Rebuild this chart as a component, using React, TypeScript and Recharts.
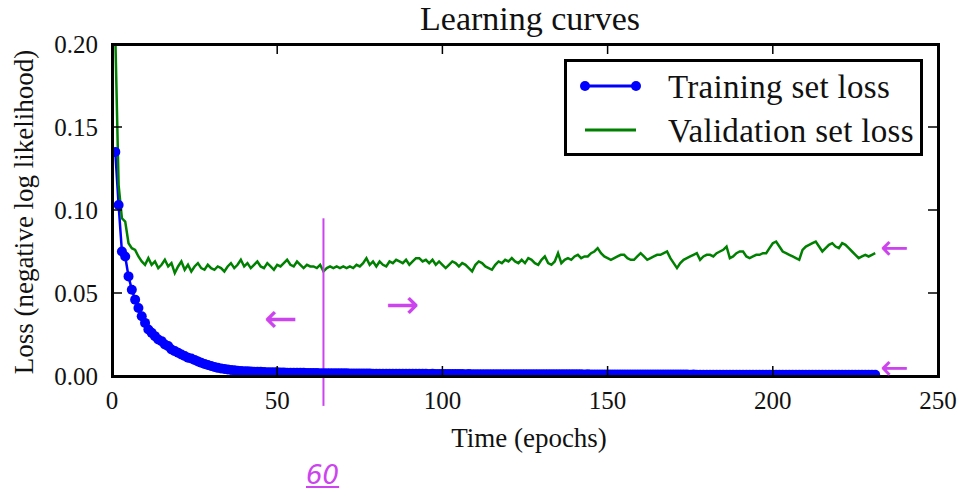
import { LineChart, Line, XAxis, YAxis, Legend, ReferenceLine } from 'recharts'

const FONT = "'Liberation Serif', 'DejaVu Serif', serif"
const INK = '#cc44ee'

// loss values, one per epoch (1..231)
const trainLoss = [
  0.135, 0.103, 0.075, 0.072, 0.060, 0.052, 0.046, 0.041, 0.036, 0.032,
  0.028, 0.026, 0.024, 0.022, 0.021, 0.019, 0.018, 0.016, 0.015, 0.014,
  0.013, 0.012, 0.011, 0.0105, 0.0097, 0.0088, 0.0080, 0.0073, 0.0066, 0.0060,
  0.0054, 0.0049, 0.0045, 0.0042, 0.0039, 0.0036, 0.0034, 0.0032, 0.0030, 0.0029,
  0.0028, 0.0027, 0.0026, 0.0025, 0.0025, 0.0024, 0.0023, 0.0023, 0.0022, 0.0022,
  0.0021, 0.0021, 0.0020, 0.0020, 0.0020, 0.0019, 0.0019, 0.0019, 0.0018, 0.0018,
  0.0018, 0.0018, 0.0017, 0.0017, 0.0017, 0.0017, 0.0016, 0.0016, 0.0016, 0.0016,
  0.0016, 0.0015, 0.0015, 0.0015, 0.0015, 0.0015, 0.0015, 0.0015, 0.0014, 0.0014,
  0.0014, 0.0014, 0.0014, 0.0014, 0.0014, 0.0013, 0.0014, 0.0013, 0.0013, 0.0013,
  0.0013, 0.0013, 0.0013, 0.0013, 0.0013, 0.0012, 0.0013, 0.0012, 0.0012, 0.0012,
  0.0012, 0.0012, 0.0012, 0.0012, 0.0012, 0.0012, 0.0011, 0.0012, 0.0011, 0.0011,
  0.0011, 0.0011, 0.0011, 0.0011, 0.0011, 0.0011, 0.0011, 0.0011, 0.0011, 0.0011,
  0.0011, 0.0010, 0.0011, 0.0010, 0.0010, 0.0010, 0.0010, 0.0010, 0.0010, 0.0010,
  0.0010, 0.0010, 0.0010, 0.0010, 0.0010, 0.0010, 0.0010, 0.0010, 0.0010, 0.0010,
  0.0010, 0.0010, 0.0009, 0.0010, 0.0009, 0.0009, 0.0009, 0.0009, 0.0009, 0.0009,
  0.0009, 0.0009, 0.0009, 0.0009, 0.0009, 0.0009, 0.0009, 0.0009, 0.0009, 0.0009,
  0.0009, 0.0009, 0.0009, 0.0009, 0.0009, 0.0009, 0.0009, 0.0009, 0.0009, 0.0009,
  0.0009, 0.0009, 0.0009, 0.0009, 0.0008, 0.0009, 0.0008, 0.0008, 0.0008, 0.0008,
  0.0008, 0.0008, 0.0008, 0.0008, 0.0008, 0.0008, 0.0008, 0.0008, 0.0008, 0.0008,
  0.0008, 0.0008, 0.0008, 0.0008, 0.0008, 0.0008, 0.0008, 0.0008, 0.0008, 0.0008,
  0.0008, 0.0008, 0.0008, 0.0008, 0.0008, 0.0008, 0.0008, 0.0008, 0.0008, 0.0008,
  0.0008, 0.0008, 0.0008, 0.0008, 0.0008, 0.0008, 0.0008, 0.0008, 0.0008, 0.0008,
  0.0008, 0.0008, 0.0008, 0.0008, 0.0008, 0.0008, 0.0008, 0.0008, 0.0008, 0.0008,
  0.0008,
]

const validLoss = [
  0.205, 0.115, 0.095, 0.093, 0.080, 0.077, 0.076, 0.072, 0.069, 0.067,
  0.071, 0.067, 0.069, 0.065, 0.067, 0.070, 0.066, 0.068, 0.062, 0.066,
  0.069, 0.064, 0.067, 0.063, 0.066, 0.068, 0.065, 0.064, 0.067, 0.065,
  0.064, 0.066, 0.065, 0.063, 0.066, 0.068, 0.065, 0.067, 0.070, 0.066,
  0.068, 0.065, 0.067, 0.069, 0.066, 0.065, 0.068, 0.066, 0.064, 0.067,
  0.066, 0.068, 0.070, 0.067, 0.066, 0.069, 0.067, 0.065, 0.067, 0.066,
  0.066, 0.065, 0.067, 0.063, 0.065, 0.066, 0.065, 0.066, 0.065, 0.066,
  0.065, 0.066, 0.065, 0.067, 0.066, 0.068, 0.071, 0.067, 0.069, 0.066,
  0.069, 0.067, 0.066, 0.069, 0.068, 0.070, 0.069, 0.068, 0.070, 0.067,
  0.069, 0.071, 0.071, 0.069, 0.070, 0.068, 0.070, 0.067, 0.069, 0.067,
  0.065, 0.067, 0.069, 0.068, 0.066, 0.068, 0.067, 0.065, 0.063, 0.067,
  0.069, 0.068, 0.066, 0.065, 0.064, 0.067, 0.069, 0.068, 0.070, 0.069,
  0.071, 0.069, 0.068, 0.070, 0.068, 0.071, 0.070, 0.068, 0.067, 0.070,
  0.072, 0.068, 0.067, 0.069, 0.074, 0.068, 0.070, 0.071, 0.070, 0.072,
  0.073, 0.071, 0.072, 0.072, 0.074, 0.075, 0.077, 0.074, 0.072, 0.071,
  0.070, 0.071, 0.072, 0.073, 0.073, 0.071, 0.070, 0.070, 0.072, 0.074,
  0.072, 0.070, 0.071, 0.072, 0.073, 0.073, 0.074, 0.075, 0.071, 0.068,
  0.065, 0.068, 0.070, 0.071, 0.072, 0.073, 0.074, 0.070, 0.072, 0.073,
  0.073, 0.072, 0.074, 0.075, 0.076, 0.078, 0.071, 0.072, 0.074, 0.075,
  0.075, 0.072, 0.071, 0.072, 0.073, 0.073, 0.074, 0.074, 0.077, 0.080,
  0.081, 0.078, 0.075, 0.074, 0.073, 0.072, 0.071, 0.070, 0.076, 0.078,
  0.079, 0.080, 0.081, 0.078, 0.075, 0.077, 0.079, 0.080, 0.078, 0.077,
  0.080, 0.079, 0.077, 0.075, 0.073, 0.071, 0.072, 0.073, 0.072, 0.073,
  0.074,
]

const epochs = trainLoss.map((_, i) => i + 1)
const xTicks = [0, 50, 100, 150, 200, 250]
const yTicks = [0, 0.05, 0.1, 0.15, 0.2]
const X_MAX = 250
const Y_MAX = 0.2
const markedEpoch = 64

const data = epochs.map((epoch, i) => ({
  epoch,
  train: trainLoss[i],
  valid: validLoss[i],
}))

const series = [
  { key: 'train', name: 'Training set loss', color: '#0000ff', dots: true },
  { key: 'valid', name: 'Validation set loss', color: '#008000', dots: false },
]

// chart box: the plot area sits at left 112, top 44, 826 x 332
const W = 967
const H = 504
const MARGIN = { top: 44, right: 29, bottom: 0, left: 0 }
const Y_AXIS_W = 112
const X_AXIS_H = 128
const PLOT = {
  left: MARGIN.left + Y_AXIS_W,
  top: MARGIN.top,
  width: W - MARGIN.left - Y_AXIS_W - MARGIN.right,
  height: H - MARGIN.top - X_AXIS_H,
}
const TICK_LEN = 10

// handwritten pen marks over the figure
const penMarks = [
  { text: '60', left: 306, top: 462, size: 26 },
  { text: '\u2190', left: 264, top: 298, size: 40 },
  { text: '\u2192', left: 386, top: 284, size: 40 },
  { text: '\u2190', left: 880, top: 230, size: 34 },
  { text: '\u2190', left: 880, top: 350, size: 34 },
]

function BottomTick({ x, y, payload }: any) {
  return (
    <text x={x} y={y + 33} textAnchor="middle" fontSize={25} fontFamily={FONT} fill="#111">
      {payload.value}
    </text>
  )
}

function LeftTick({ x, y, payload }: any) {
  return (
    <text x={x - 14} y={y + 9} textAnchor="end" fontSize={25} fontFamily={FONT} fill="#111">
      {Number(payload.value).toFixed(2)}
    </text>
  )
}

// box round the plot with inward ticks on all four sides (matplotlib style)
function Frame() {
  const sx = (v: number) => (v / X_MAX) * PLOT.width
  const sy = (v: number) => PLOT.height - (v / Y_MAX) * PLOT.height
  return (
    <>
      <svg
        width={PLOT.width + 4}
        height={PLOT.height + 4}
        style={{ position: 'absolute', left: PLOT.left - 2, top: PLOT.top - 2, pointerEvents: 'none' }}
      >
        <g transform="translate(2 2)" stroke="#000" strokeWidth={1.5}>
          {xTicks.map((t) => (
            <g key={'x' + t}>
              <line x1={sx(t)} x2={sx(t)} y1={0} y2={TICK_LEN} />
              <line x1={sx(t)} x2={sx(t)} y1={PLOT.height} y2={PLOT.height - TICK_LEN} />
            </g>
          ))}
          {yTicks.map((t) => (
            <g key={'y' + t}>
              <line x1={0} x2={TICK_LEN} y1={sy(t)} y2={sy(t)} />
              <line x1={PLOT.width} x2={PLOT.width - TICK_LEN} y1={sy(t)} y2={sy(t)} />
            </g>
          ))}
        </g>
      </svg>
      <div
        style={{
          position: 'absolute',
          left: PLOT.left - 1.5,
          top: PLOT.top - 1.5,
          width: PLOT.width + 3,
          height: PLOT.height + 3,
          border: '3px solid #000',
          boxSizing: 'border-box',
          pointerEvents: 'none',
        }}
      />
    </>
  )
}

function LegendBox() {
  return (
    <div
      style={{
        width: 359,
        height: 97,
        border: '3px solid #000',
        boxSizing: 'border-box',
        background: '#fff',
        position: 'relative',
        fontFamily: FONT,
      }}
    >
      {series.map((s, i) => (
        <div key={s.key} style={{ position: 'absolute', left: 0, top: 8 + i * 44, height: 40, width: 355 }}>
          <svg width={80} height={40} style={{ position: 'absolute', left: 10, top: 0 }}>
            <line x1={8} x2={59} y1={16} y2={16} stroke={s.color} strokeWidth={3} />
            {s.dots && <circle cx={8} cy={16} r={5} fill={s.color} />}
            {s.dots && <circle cx={59} cy={16} r={5} fill={s.color} />}
          </svg>
          <span
            style={{
              position: 'absolute',
              left: 101,
              top: -3,
              fontSize: 33,
              letterSpacing: 0.3,
              lineHeight: '40px',
              color: '#111',
              whiteSpace: 'nowrap',
            }}
          >
            {s.name}
          </span>
        </div>
      ))}
    </div>
  )
}

function YLabel({ viewBox }: any) {
  const cx = 33
  const cy = viewBox.y + viewBox.height / 2 + 2
  return (
    <text
      x={cx}
      y={cy}
      transform={`rotate(-90 ${cx} ${cy})`}
      textAnchor="middle"
      fontSize={27}
      fontFamily={FONT}
      fill="#111"
    >
      Loss (negative log likelihood)
    </text>
  )
}

function XLabel({ viewBox }: any) {
  const cx = viewBox.x + viewBox.width / 2 + 4
  return (
    <text x={cx} y={viewBox.y + 71} textAnchor="middle" fontSize={27} fontFamily={FONT} fill="#111">
      Time (epochs)
    </text>
  )
}

export default function App() {
  return (
    <div style={{ position: 'absolute', left: 0, top: 0, width: W, height: H }}>
      <div
        style={{
          position: 'absolute',
          left: 330,
          top: 2,
          width: 400,
          textAlign: 'center',
          fontFamily: FONT,
          fontSize: 34,
          lineHeight: '34px',
          color: '#111',
        }}
      >
        Learning curves
      </div>
      <LineChart width={W} height={H} data={data} margin={MARGIN}>
        <XAxis
          xAxisId="b"
          dataKey="epoch"
          type="number"
          domain={[0, X_MAX]}
          ticks={xTicks}
          allowDataOverflow
          height={X_AXIS_H}
          tickSize={0}
          tickMargin={0}
          tickLine={false}
          tick={<BottomTick />}
          axisLine={false}
          label={XLabel}
        />
        <YAxis
          yAxisId="l"
          type="number"
          domain={[0, Y_MAX]}
          ticks={yTicks}
          allowDataOverflow
          width={Y_AXIS_W}
          tickSize={0}
          tickMargin={0}
          tickLine={false}
          tick={<LeftTick />}
          axisLine={false}
          label={YLabel}
        />
        <Line
          xAxisId="b"
          yAxisId="l"
          type="linear"
          dataKey="train"
          name={series[0].name}
          stroke={series[0].color}
          strokeWidth={2.5}
          dot={{ r: 5, fill: series[0].color, stroke: series[0].color, strokeWidth: 0 }}
          isAnimationActive={false}
        />
        <Line
          xAxisId="b"
          yAxisId="l"
          type="linear"
          dataKey="valid"
          name={series[1].name}
          stroke={series[1].color}
          strokeWidth={2.5}
          dot={false}
          isAnimationActive={false}
        />
        {/* pen mark at epoch ~64 */}
        <ReferenceLine
          xAxisId="b"
          yAxisId="l"
          segment={[{ x: markedEpoch, y: 0.095 }, { x: markedEpoch, y: -0.018 }]}
          stroke={INK}
          strokeWidth={2}
          ifOverflow="visible"
        />
        <Legend
          layout="vertical"
          align="center"
          verticalAlign="middle"
          content={<LegendBox />}
          wrapperStyle={{ position: 'absolute', left: 564, top: 59, width: 359, height: 97 }}
        />
      </LineChart>
      <Frame />
      {penMarks.map((m, i) => (
        <div
          key={i}
          style={{
            position: 'absolute',
            left: m.left,
            top: m.top,
            fontFamily: "'DejaVu Sans', sans-serif",
            fontStyle: 'italic',
            fontSize: m.size,
            lineHeight: 1,
            color: INK,
            textDecoration: m.text === '60' ? 'underline' : 'none',
          }}
        >
          {m.text}
        </div>
      ))}
    </div>
  )
}
